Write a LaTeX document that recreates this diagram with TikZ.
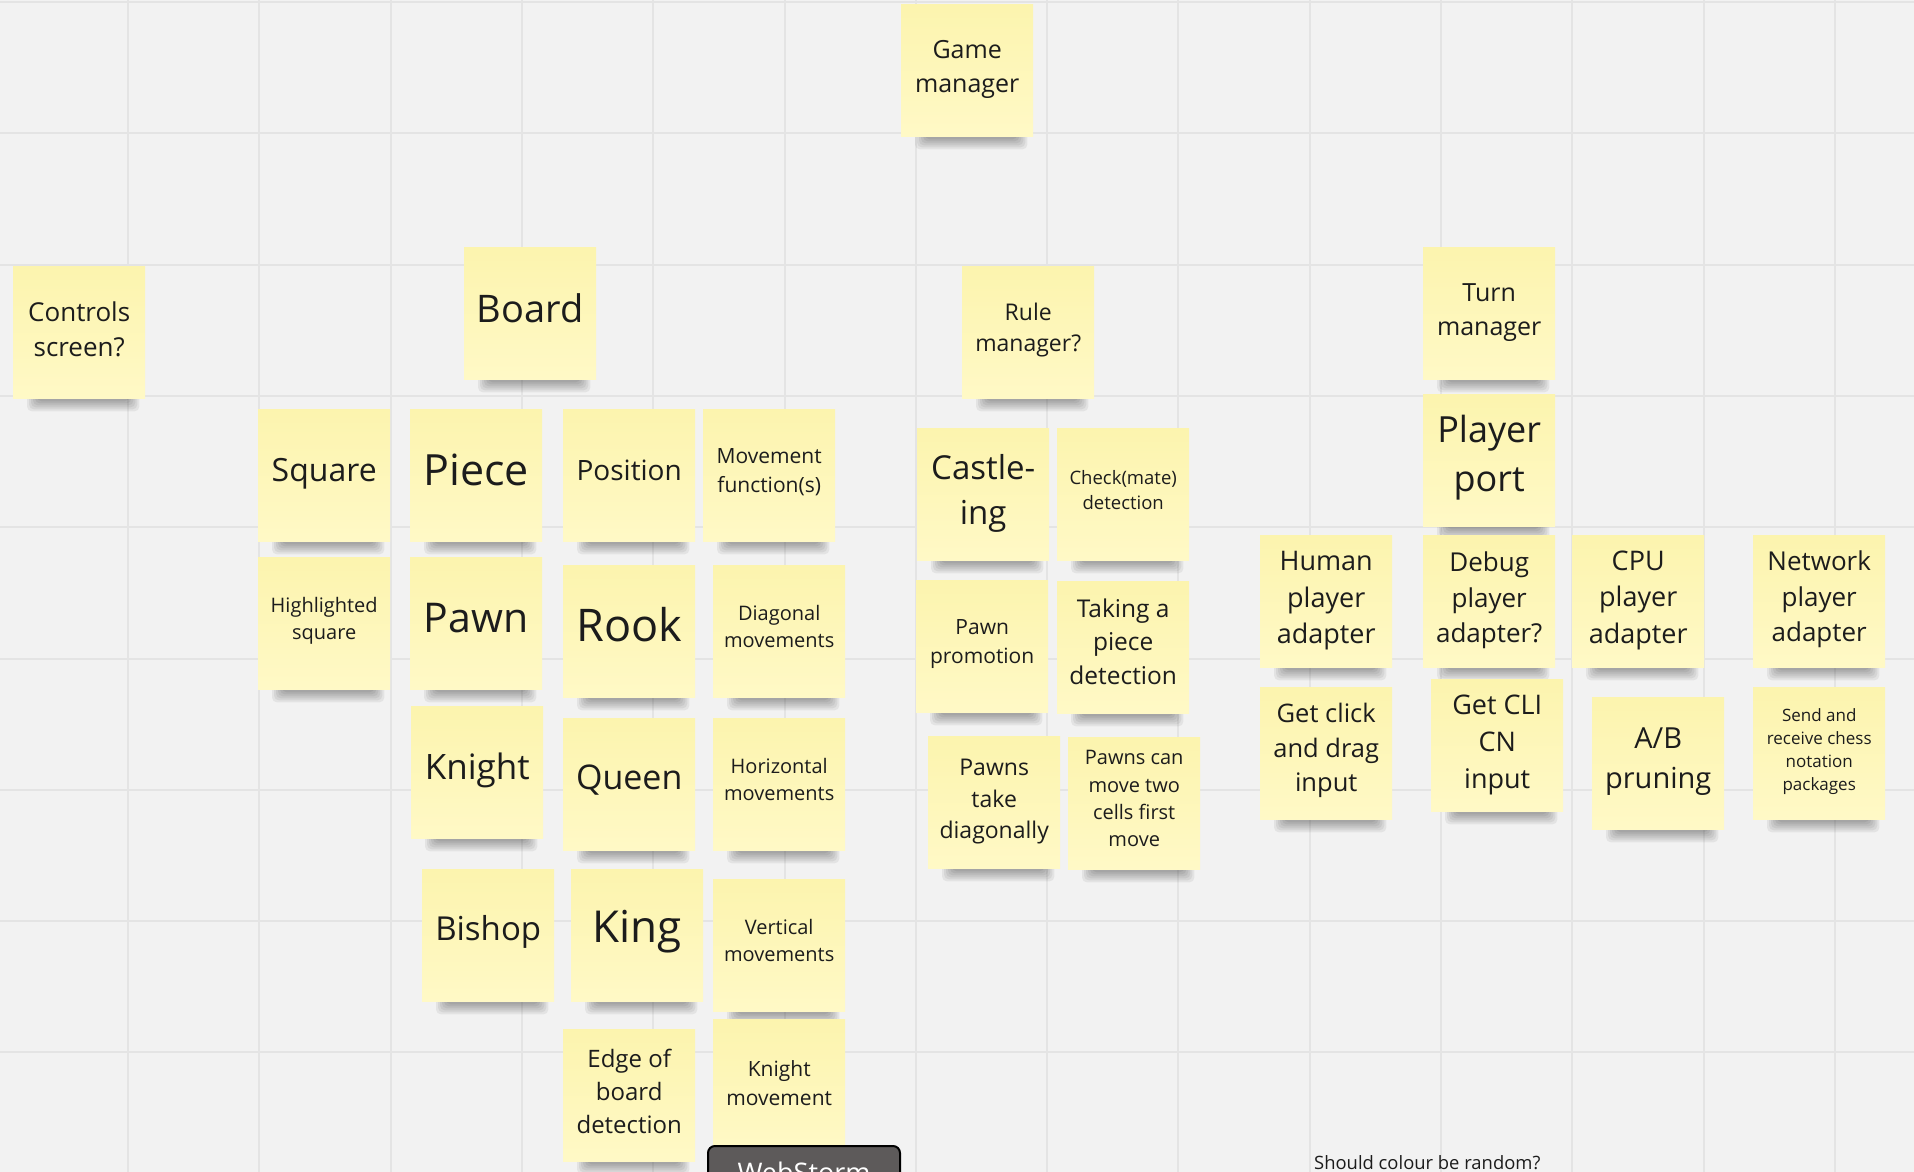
\documentclass[tikz,border=0pt]{standalone}
\usepackage{fontspec}
\setmainfont{Open Sans}
\definecolor{bgc}{HTML}{F2F2F2}
\definecolor{gridc}{HTML}{E4E4E4}
\definecolor{stickyTop}{HTML}{FCF4AE}
\definecolor{stickyBot}{HTML}{FFF9C6}
\definecolor{ink}{HTML}{1C1C1C}
\definecolor{btn}{HTML}{5D5A5A}
\pgfdeclarelayer{gridlayer}
\pgfdeclarelayer{shadowlayer}
\pgfsetlayers{gridlayer,shadowlayer,main}
\newcommand\fs[1]{\fontsize{#1}{\fpeval{#1*1.36}}\selectfont}
\newcommand\mstrut{\rule[-0.46em]{0pt}{0.46em}}
\newcommand\shadowof[1]{%
  \begin{pgfonlayer}{shadowlayer}
  \foreach \k in {0,...,5}{
    \fill[black, opacity=0.06, rounded corners=5]
      ([xshift={14+\k*2}, yshift=6]#1.south west) rectangle ([xshift={-6-\k*2}, yshift={-13+\k*2}]#1.south east);
  }
  \end{pgfonlayer}}
\tikzset{
  sticky/.style={anchor=north west, minimum width=132, minimum height=132, inner sep=0,
    align=center, text=ink, top color=stickyTop, bottom color=stickyBot},
}
% #1 = height (em) of a strut on the first line, lowers the text slightly
\newcommand\note[6][0]{%
  \node[sticky, font=\fs{#5}] (#2) at (#3,#4) {\rule{0pt}{#1em}#6\mstrut};
  \shadowof{#2}}
\begin{document}
\begin{tikzpicture}[x=1pt, y=-1pt]
\useasboundingbox (0,0) rectangle (1914,1172);
\begin{pgfonlayer}{gridlayer}
  \fill[bgc] (0,0) rectangle (1914,1172);
  \foreach \i in {0,...,13} \draw[gridc, line width=2] ({128+131.3*\i},0) -- ++(0,1172);
  \foreach \j in {0,...,8} \draw[gridc, line width=2] (0,{2+131.3*\j}) -- ++(1914,0);
\end{pgfonlayer}

\note[0.91]{game}{901}{4}{25}{Game\\manager}
\note[0.99]{controls}{13}{266}{26}{Controls\\screen?}
\note[0.95]{board}{464}{247}{38}{Board}
\note{rule}{962}{266}{23}{Rule\\manager?}
\note[0.86]{turn}{1423}{247}{25}{Turn\\manager}

\note[0.87]{square}{258}{409}{32}{Square}
\note[0.93]{piece}{410}{409}{43}{Piece}
\note[0.85]{position}{563}{409}{28}{Position}
\note{movement}{703}{409}{21}{Movement\\function(s)}

\note{highlight}{258}{557}{20}{Highlighted\\square}
\note[0.89]{pawn}{410}{557}{41}{Pawn}
\note[0.92]{rook}{563}{565}{45}{Rook}
\note{diag}{713}{565}{20}{Diagonal\\movements}

\note[0.9]{knight}{411}{706}{35}{Knight}
\note[0.79]{queen}{563}{718}{34}{Queen}
\note{horiz}{713}{718}{20}{Horizontal\\movements}

\note{bishop}{422}{869}{33}{Bishop}
\note[0.81]{king}{571}{869}{44}{King}
\note{vert}{713}{879}{20}{Vertical\\movements}

\note[0.91]{edge}{563}{1029}{24}{Edge of\\board\\detection}
\note[0.99]{knightmv}{713}{1019}{21}{Knight\\movement}

\note[0.91]{castle}{917}{428}{33}{Castle-\\ing}
\note{check}{1057}{428}{18.5}{Check(mate)\\detection}
\note{promo}{916}{580}{21}{Pawn\\promotion}
\note{taking}{1057}{581}{24.5}{Taking a\\piece\\detection}
\note[0.89]{takediag}{928}{736}{23}{Pawns\\take\\diagonally}
\note{twocells}{1068}{737}{20}{Pawns can\\move two\\cells first\\move}

\note[0.86]{playerport}{1423}{394}{36}{Player\\port}
\note[0.9]{human}{1260}{535}{27}{Human\\player\\adapter}
\note[0.92]{debug}{1423}{535}{26}{Debug\\player\\adapter?}
\note[0.87]{cpu}{1572}{535}{27}{CPU\\player\\adapter}
\note[0.85]{network}{1753}{535}{26}{Network\\player\\adapter}
\note{click}{1260}{687}{25.5}{Get click\\and drag\\input}
\note[0.92]{cli}{1431}{679}{27}{Get CLI\\CN\\input}
\note[0.84]{ab}{1592}{697}{29}{A/B\\pruning}
\note{send}{1753}{687}{17}{Send and\\receive chess\\notation\\packages}

\node[draw=black, line width=2, fill=btn, rounded corners=7, minimum width=192, minimum height=52,
  anchor=north west, inner sep=0, text=white, font=\fs{27}] (webstorm) at (707,1145) {WebStorm};
\node[anchor=base west, inner sep=0, text=ink, font=\fs{18.4}] (question) at (1314,1169) {Should colour be random?};
\end{tikzpicture}
\end{document}
